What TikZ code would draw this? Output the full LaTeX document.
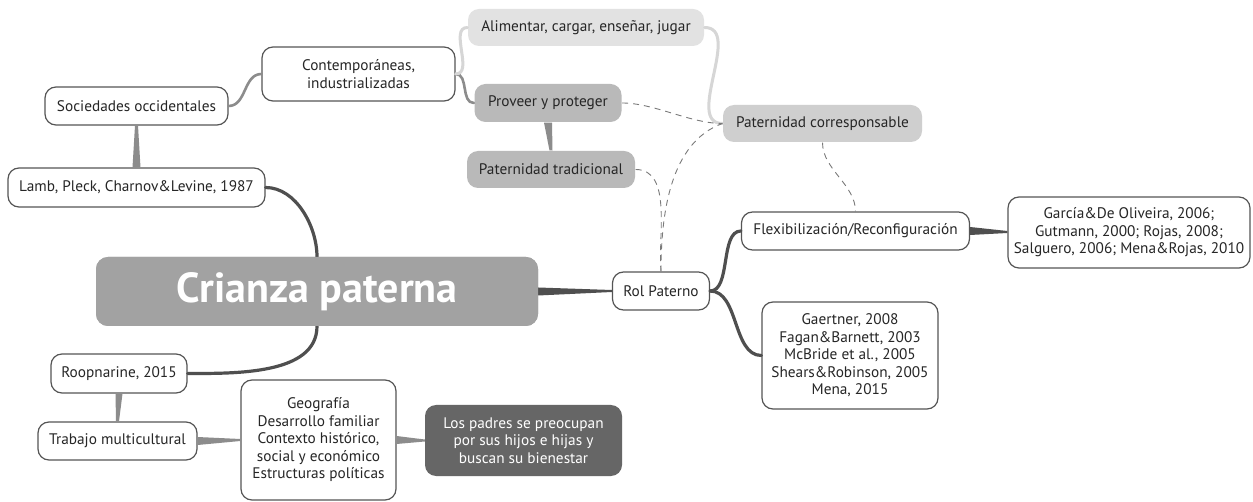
\documentclass[tikz,border=0pt]{standalone}
\usepackage{fontspec}
\setmainfont{PT Sans}
\usetikzlibrary{calc}
\definecolor{edgeC}{HTML}{555555}
\definecolor{linkD}{HTML}{4F4F4F}
\definecolor{linkM}{HTML}{8C8C8C}
\definecolor{linkL}{HTML}{D6D6D6}
\definecolor{dashC}{HTML}{7A7A7A}
\definecolor{fillL}{HTML}{E2E2E2}
\definecolor{fillM}{HTML}{B9B9B9}
\definecolor{fillP}{HTML}{CFCFCF}
\definecolor{fillC}{HTML}{A2A2A2}
\definecolor{fillD}{HTML}{666666}
\tikzset{
  topic/.style={draw=edgeC, line width=1.2pt, rounded corners=11pt, fill=white,
    align=center, font=\fontsize{15.3}{17.5}\selectfont, text=black!85, inner sep=2pt},
  softtopic/.style={topic, draw=none, fill=#1},
  mainbox/.style={rounded corners=12pt, fill=fillC, text=white,
    font=\fontsize{42}{46}\selectfont\bfseries},
  darkbox/.style={rounded corners=11pt, fill=fillD, text=white, align=center,
    font=\fontsize{15.3}{17.5}\selectfont},
  strong/.style={draw=linkD, line width=3.2pt, line cap=round},
  mid/.style={draw=linkM, line width=2.6pt, line cap=round},
  light/.style={draw=linkL, line width=3pt, line cap=round},
  hint/.style={draw=dashC, line width=0.9pt, dash pattern=on 6pt off 5pt},
}
\begin{document}
\begin{tikzpicture}[x=1pt,y=-1pt]
\useasboundingbox[fill=white] (0,0) rectangle (1253,502);

% nodes
\node[mainbox, minimum width=442pt, minimum height=69pt] (cp) at (317,291.5) {Crianza paterna};
\node[topic, minimum width=97pt, minimum height=38pt] (rol) at (661,291) {Rol Paterno};
\node[topic, minimum width=257pt, minimum height=39pt] (lamb) at (136.5,187.5) {Lamb, Pleck, Charnov\&Levine, 1987};
\node[topic, minimum width=183pt, minimum height=38pt] (soc) at (136.5,106) {Sociedades occidentales};
\node[topic, minimum width=193pt, minimum height=54pt] (cont) at (358.5,74) {Contemporáneas,\\industrializadas};
\node[softtopic=fillL, minimum width=236pt, minimum height=37pt] (alim) at (586,27.5) {Alimentar, cargar, enseñar, jugar};
\node[softtopic=fillM, minimum width=147pt, minimum height=38pt] (prov) at (548,103) {Proveer y proteger};
\node[softtopic=fillM, minimum width=168pt, minimum height=37pt] (trad) at (551,169.5) {Paternidad tradicional};
\node[softtopic=fillP, minimum width=199pt, minimum height=37pt] (corr) at (822.5,123.5) {Paternidad corresponsable};
\node[topic, minimum width=228pt, minimum height=38pt] (flex) at (855.5,231) {Flexibilización/Reconfiguración};
\node[topic, minimum width=242pt, minimum height=71pt] (garc) at (1129,232.5) {García\&De Oliveira, 2006;\\Gutmann, 2000; Rojas, 2008;\\Salguero, 2006; Mena\&Rojas, 2010};
\node[topic, minimum width=176pt, minimum height=107pt] (gaer) at (850,355.5) {Gaertner, 2008\\Fagan\&Barnett, 2003\\McBride et al., 2005\\Shears\&Robinson, 2005\\Mena, 2015};
\node[topic, minimum width=136pt, minimum height=39pt] (roop) at (119,373.5) {Roopnarine, 2015};
\node[topic, minimum width=159pt, minimum height=38pt] (trab) at (117.5,441) {Trabajo multicultural};
\node[topic, minimum width=155pt, minimum height=120pt] (geo) at (318.5,440) {Geografía\\Desarrollo familiar\\Contexto histórico,\\social y económico\\Estructuras políticas};
\node[darkbox, minimum width=197pt, minimum height=71pt] (padres) at (523.5,440.5) {Los padres se preocupan\\por sus hijos e hijas y\\buscan su bienestar};

% tapered straight branches
\fill[linkD] ($(cp.east)+(0,-4)$) -- ($(rol.west)+(0,-1)$) -- ($(rol.west)+(0,1)$) -- ($(cp.east)+(0,4)$) -- cycle;
\fill[linkD] ($(flex.east)+(0,-4)$) -- ($(garc.west)+(0,-1.5)$) -- ($(garc.west)+(0,0.5)$) -- ($(flex.east)+(0,4)$) -- cycle;
\fill[linkM] ($(lamb.north)+(-4,0)$) -- ($(soc.south)+(-1.5,0)$) -- ($(soc.south)+(1.5,0)$) -- ($(lamb.north)+(4,0)$) -- cycle;
\fill[linkM] ($(trab.north)+(-1.5,0)$) -- ($(roop.south)+(-3.5,0)$) -- ($(roop.south)+(3.5,0)$) -- ($(trab.north)+(1.5,0)$) -- cycle;
\fill[linkM] ($(trab.east)+(0,-4)$) -- ($(geo.west)+(0,-1)$) -- ($(geo.west)+(0,1)$) -- ($(trab.east)+(0,4)$) -- cycle;
\fill[linkM] ($(geo.east)+(0,-4)$) -- ($(padres.west)+(0,-1)$) -- ($(padres.west)+(0,1)$) -- ($(geo.east)+(0,4)$) -- cycle;
\fill[linkM] ($(prov.south)+(-4,0)$) -- ($(trad.north)+(-1.5,0)$) -- ($(trad.north)+(1.5,0)$) -- ($(prov.south)+(4,0)$) -- cycle;

% curved branches
\draw[strong] (cp.north) to[out=90,in=0,looseness=0.9] (lamb.east);
\draw[strong] (cp.south) to[out=-90,in=0,looseness=0.9] (roop.east);
\draw[strong] (rol.east) to[out=0,in=180,looseness=0.8] (flex.west);
\draw[strong] (rol.east) to[out=0,in=180,looseness=0.9] (gaer.west);
\draw[mid] (soc.east) to[out=0,in=180] (cont.west);
\draw[mid] (cont.east) to[out=0,in=180] (prov.west);
\draw[light] (cont.east) to[out=0,in=180] (alim.west);
\draw[light] (alim.east) to[out=0,in=180] (corr.west);

% dashed cross-links
\draw[hint] (prov.east) to[out=0,in=180,looseness=0.8] (corr.west);
\draw[hint] (rol.north) to[out=90,in=200,looseness=0.9] (corr.west);
\draw[hint] (trad.east) to[out=0,in=95,looseness=0.9] (rol.north);
\draw[hint] (corr.south) to[out=-90,in=90,looseness=0.9] (flex.north);

% central box on top of its link ends
\node[mainbox, minimum width=442pt, minimum height=69pt] at (cp) {Crianza paterna};
\end{tikzpicture}
\end{document}
